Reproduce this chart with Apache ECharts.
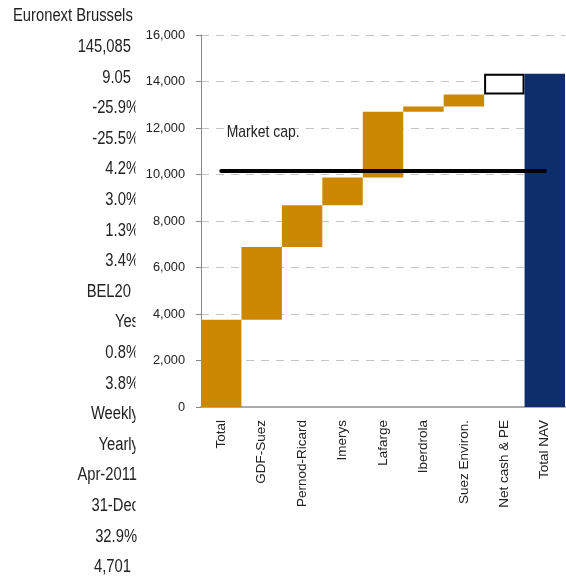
<!DOCTYPE html>
<html><head><meta charset="utf-8">
<script src="https://cdn.jsdelivr.net/npm/echarts@6/dist/echarts.min.js"></script>
<style>html,body{margin:0;padding:0;background:#fff}#c{width:566px;height:581px}</style>
</head><body><div id="c"></div>
<script>
const categories = ['Total','GDF-Suez','Pernod-Ricard','Imerys','Lafarge','Iberdrola','Suez Environ.','Net cash & PE','Total NAV'];
const contributions = [3750, 3130, 1800, 1190, 2830, 220, 520, 890];
const totalNAV = 14330;
const marketCap = 10180;
const marketCapLabel = 'Market cap.';
const marketCapLabelLevel = 11800;
const leftTexts = ['Euronext Brussels','145,085','9.05','-25.9%','-25.5%','4.2%','3.0%','1.3%','3.4%','BEL20','Yes','0.8%','3.8%','Weekly','Yearly','Apr-2011','31-Dec','32.9%','4,701'];

const FONT = '"Liberation Sans",Arial,sans-serif';
const SX = 0.82; // narrow-font emulation for free texts
const n = categories.length;
const base = [], inc = [], net = [], nav = [];
let cum = 0;
for (let i = 0; i < n; i++) {
  if (i < contributions.length) {
    base.push(cum);
    if (i === contributions.length - 1) { inc.push('-'); net.push(contributions[i]); }
    else { inc.push(contributions[i]); net.push('-'); }
    nav.push('-');
    cum += contributions[i];
  } else { base.push('-'); inc.push('-'); net.push('-'); nav.push(totalNAV); }
}

const rightEdge = {'145,085':131,'9.05':131,'BEL20':131,'4,701':131,'Apr-2011':137,'32.9%':137};
function buildGraphics(capPt) {
  const g = [];
  leftTexts.forEach((t, i) => {
    const y = 16.5 + i * 30.6;
    if (i === 0) {
      g.push({type:'text', x:13, y:y, scaleX:SX, z:1, style:{text:t, font:'18px '+FONT, fill:'#222', textAlign:'left', textVerticalAlign:'middle'}});
    } else {
      const rx = rightEdge[t] !== undefined ? rightEdge[t] : 139;
      g.push({type:'text', x:rx, y:y, scaleX:SX, z:1, style:{text:t, font:'18px '+FONT, fill:'#222', textAlign:'right', textVerticalAlign:'middle'}});
    }
  });
  [[0,462],[492,523],[553,581]].forEach(r => {
    g.push({type:'rect', shape:{x:135.5, y:r[0], width:7, height:r[1]-r[0]}, style:{fill:'#fff'}, z:2});
  });
  if (capPt) {
    g.push({type:'text', x:capPt[0]+5.5, y:capPt[1], scaleX:SX, z:5, style:{text:marketCapLabel, font:'17px '+FONT, fill:'#222', textAlign:'left', textVerticalAlign:'middle'}});
  }
  return g;
}

const chart = echarts.init(document.getElementById('c'), null, {renderer:'canvas'});
chart.setOption({
  animation: false,
  graphic: buildGraphics(null),
  grid: {left:201, top:35, right:1, bottom:174, outerBoundsMode:'none', containLabel:false},
  xAxis: {
    type:'category', data:categories,
    axisLine:{lineStyle:{color:'#aaa', width:2}},
    axisTick:{show:false},
    axisLabel:{rotate:90, margin:13, color:'#222', fontSize:13.5, fontFamily:FONT, interval:0}
  },
  yAxis: {
    type:'value', min:0, max:16000, interval:2000,
    axisLine:{show:true, lineStyle:{color:'#888', width:1}},
    axisTick:{show:true, length:5, lineStyle:{color:'#888'}},
    splitLine:{show:true, lineStyle:{color:'#c4c4c4', type:[8,7], width:1}},
    axisLabel:{margin:16, color:'#222', fontSize:12.8, fontFamily:FONT,
      formatter: v => v.toLocaleString('en-US')}
  },
  series: [
    {type:'bar', stack:'w', data:base, barCategoryGap:'0%', itemStyle:{color:'rgba(0,0,0,0)'}, silent:true},
    {type:'bar', stack:'w', data:inc, barCategoryGap:'0%', itemStyle:{color:'#CC8800'}},
    {type:'bar', stack:'w', data:net, barCategoryGap:'0%', itemStyle:{color:'#ffffff', borderColor:'#000', borderWidth:2}},
    {type:'bar', stack:'w', data:nav, barCategoryGap:'0%', itemStyle:{color:'#0E2D6B'},
      markLine:{
        silent:true, symbol:['none','none'],
        lineStyle:{color:'#000', width:4, type:'solid', cap:'round'},
        label:{show:false},
        data:[[{coord:[0, marketCap]},{coord:[n-1, marketCap]}]]
      }
    }
  ]
});
const capPt = chart.convertToPixel({gridIndex:0}, [0, marketCapLabelLevel]);
chart.setOption({graphic: buildGraphics(capPt)}, {replaceMerge:['graphic']});
</script></body></html>
